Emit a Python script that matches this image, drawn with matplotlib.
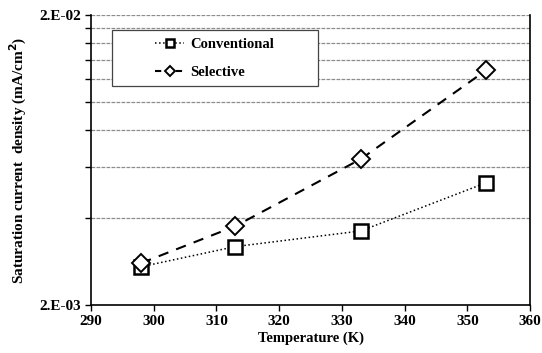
import matplotlib
matplotlib.use("Agg")
import matplotlib.pyplot as plt
from matplotlib.patches import Rectangle
from matplotlib.ticker import FixedLocator, NullFormatter

plt.rcParams['font.family'] = ['Liberation Serif', 'DejaVu Serif']
plt.rcParams['font.weight'] = 'bold'

temps = [298, 313, 333, 353]
conventional = [2.71e-3, 3.18e-3, 3.60e-3, 5.28e-3]
selective = [2.79e-3, 3.74e-3, 6.37e-3, 1.29e-2]
grid_vals = [4e-3, 6e-3, 8e-3, 1e-2, 1.2e-2, 1.4e-2, 1.6e-2, 1.8e-2, 2e-2]

fig = plt.figure(figsize=(5.42, 3.53), dpi=100)
ax = fig.add_axes([0.168, 0.136, 0.810, 0.8215])

ax.plot(temps, conventional, ls=':', lw=1.1, color='black', marker='s', ms=10,
        mfc='white', mec='black', mew=1.8, label='Conventional')
ax.plot(temps, selective, ls=(0, (5, 4)), lw=1.5, color='black', marker='D', ms=9,
        mfc='white', mec='black', mew=1.4, label='Selective')

ax.set_yscale('log')
ax.set_xlim(290, 360)
ax.set_ylim(2e-3, 2e-2)
ax.set_xticks(range(290, 361, 10))
ax.yaxis.set_major_locator(FixedLocator([2e-3, 2e-2]))
ax.set_yticklabels(['2.E-03', '2.E-02'])
ax.yaxis.set_minor_locator(FixedLocator(grid_vals[:-1]))
ax.yaxis.set_minor_formatter(NullFormatter())
for v in grid_vals:
    ax.axhline(v, color='#8c8c8c', lw=0.9, ls=(0, (3, 1)), zorder=0)

ax.tick_params(axis='both', labelsize=11, direction='out', width=1, length=4)
ax.tick_params(axis='y', which='minor', length=4, width=1)
ax.spines['top'].set_visible(False)
for s in ['left', 'bottom', 'right']:
    ax.spines[s].set_linewidth(1.2)

ax.set_xlabel('Temperature (K)', fontsize=10.5, fontweight='bold', labelpad=2)
ax.set_ylabel('Saturation current  density (mA/cm$^\\mathbf{2}$)', fontsize=11,
              fontweight='bold', labelpad=7)

# legend box drawn by hand so it matches the wide frame
ax.add_patch(Rectangle((0.048, 0.755), 0.47, 0.193, transform=ax.transAxes,
                       facecolor='white', edgecolor='#444444', lw=0.9, zorder=3))
leg = ax.legend(loc='upper left', bbox_to_anchor=(0.146, 0.922), fontsize=10.5,
                frameon=False, markerscale=0.55, handlelength=2.0,
                handletextpad=0.4, labelspacing=1.03, borderaxespad=0,
                borderpad=0)
leg.set_zorder(4)
leg.get_lines()[1].set_linestyle((0, (3, 2)))

fig.savefig('out.png', dpi=100)
